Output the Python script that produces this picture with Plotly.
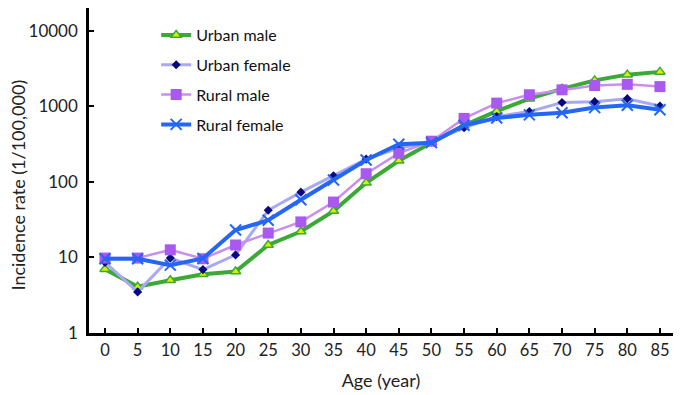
import plotly.graph_objects as go

ages = [0, 5, 10, 15, 20, 25, 30, 35, 40, 45, 50, 55, 60, 65, 70, 75, 80, 85]
urban_male = [7.0, 4.1, 5.0, 6.0, 6.5, 14.6, 22, 41, 97, 190, 330, 560, 860, 1260, 1700, 2200, 2620, 2850]
urban_female = [8.6, 3.5, 9.8, 6.9, 10.8, 42, 73, 120, 200, 280, 335, 520, 730, 850, 1120, 1150, 1260, 1010]
rural_male = [9.8, 9.8, 12.6, 9.6, 14.6, 21, 29.5, 54, 128, 240, 345, 690, 1100, 1420, 1650, 1880, 1950, 1820]
rural_female = [9.6, 9.6, 7.9, 9.7, 23, 31, 58, 106, 195, 315, 330, 560, 700, 770, 820, 960, 1030, 900]

y_tickvals = [1, 10, 100, 1000, 10000]
y_ticktext = ["1", "10", "100", "1000", "10000"]

FONT = "Lato, 'Open Sans', sans-serif"

fig = go.Figure()
fig.add_trace(go.Scatter(
    x=ages, y=urban_male, name="Urban male", mode="lines+markers", legendgroup="a",
    line=dict(color="#3aa935", width=4),
    marker=dict(symbol="triangle-up", size=9, color="#d4f000", line=dict(color="#3aa935", width=1.5))))
fig.add_trace(go.Scatter(
    x=ages, y=urban_female, name="Urban female", mode="lines+markers", legendgroup="b",
    line=dict(color="#a8a8f4", width=3),
    marker=dict(symbol="diamond", size=7, color="#0a0a80")))
fig.add_trace(go.Scatter(
    x=ages, y=rural_male, name="Rural male", mode="lines+markers", legendgroup="c",
    line=dict(color="#c88ef0", width=2.5),
    marker=dict(symbol="square", size=11, color="#a958f0")))
fig.add_trace(go.Scatter(
    x=ages, y=rural_female, name="Rural female", mode="lines+markers", legendgroup="d",
    line=dict(color="#2466f5", width=4),
    marker=dict(symbol="x-thin", size=11, color="#2466f5", line=dict(color="#2466f5", width=2))))

fig.update_layout(
    width=694, height=395,
    margin=dict(l=81, r=29, t=0, b=70),
    paper_bgcolor="white", plot_bgcolor="white",
    font=dict(family=FONT, size=16, color="#222"),
    legend=dict(x=0.115, y=0.969, xanchor="left", yanchor="top", tracegroupgap=6,
                font=dict(size=16, color="#111"), bgcolor="rgba(0,0,0,0)"),
    xaxis=dict(range=[-2.45, 87], tickvals=ages, ticks="inside", ticklen=5, tickwidth=2,
               tickcolor="black", showline=True, linecolor="black", linewidth=2.5,
               showgrid=False, zeroline=False, automargin=False,
               tickfont=dict(size=16.5),
               title=dict(text="Age (year)", font=dict(size=18), standoff=16)),
    yaxis=dict(type="log", range=[0, 4.3], tickvals=y_tickvals, ticktext=y_ticktext,
               ticks="inside", ticklen=5, tickwidth=2, tickcolor="black",
               showline=True, linecolor="black", linewidth=2.5, showgrid=False, zeroline=False,
               automargin=False, tickfont=dict(size=17), ticklabelstandoff=5),
    annotations=[dict(text="Incidence rate (1/100,000)", textangle=-90,
                      xref="paper", yref="paper", x=-0.1215, y=0.454,
                      xanchor="center", yanchor="middle", showarrow=False,
                      font=dict(size=18, color="#222"))],
)

fig.write_html("out.html")
